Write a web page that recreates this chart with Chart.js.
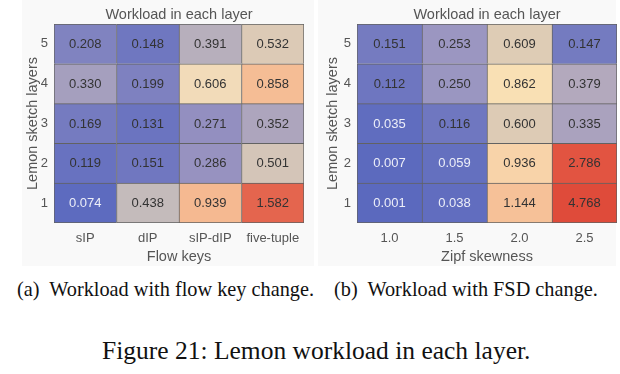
<!DOCTYPE html>
<html><head><meta charset="utf-8">
<script src="https://cdn.jsdelivr.net/npm/chart.js@4"></script>
<style>
body{margin:0;background:#fff;width:620px;height:374px;position:relative;overflow:hidden;}
.c{position:absolute;top:0;}
.bg{position:absolute;background:#f9f9f9;}
.cap{position:absolute;color:#111;white-space:pre;font-family:"Liberation Serif","Times New Roman",serif;line-height:1;}
</style></head><body>
<div class="bg" style="left:22px;top:0;width:292px;height:266px"></div>
<div class="bg" style="left:318px;top:0;width:298px;height:266px"></div>
<div class="c" style="left:0"><canvas id="a" width="310" height="270"></canvas></div>
<div class="c" style="left:310px"><canvas id="b" width="310" height="270"></canvas></div>
<div class="cap" style="left:17px;top:279px;font-size:20.3px">(a)  Workload with flow key change.</div>
<div class="cap" style="left:334px;top:279px;font-size:20.3px">(b)  Workload with FSD change.</div>
<div class="cap" style="left:102px;top:338px;font-size:25.5px">Figure 21: Lemon workload in each layer.</div>
<script>
// ---- data ----
const layers = [1, 2, 3, 4, 5];
const flowKeys = ['sIP', 'dIP', 'sIP-dIP', 'five-tuple'];
const flowLayer1 = [0.074, 0.438, 0.939, 1.582];
const flowLayer2 = [0.119, 0.151, 0.286, 0.501];
const flowLayer3 = [0.169, 0.131, 0.271, 0.352];
const flowLayer4 = [0.330, 0.199, 0.606, 0.858];
const flowLayer5 = [0.208, 0.148, 0.391, 0.532];
const zipfSkew = ['1.0', '1.5', '2.0', '2.5'];
const zipfLayer1 = [0.001, 0.038, 1.144, 4.768];
const zipfLayer2 = [0.007, 0.059, 0.936, 2.786];
const zipfLayer3 = [0.035, 0.116, 0.600, 0.335];
const zipfLayer4 = [0.112, 0.250, 0.862, 0.379];
const zipfLayer5 = [0.151, 0.253, 0.609, 0.147];

// ---- colour maps ----
const stopsA = [[0,'#5a68be'],[0.075,'#5d6bbf'],[0.15,'#7077c0'],[0.21,'#8183c0'],[0.29,'#9893c0'],[0.35,'#aca5bd'],[0.44,'#c5bbbb'],[0.53,'#dbcab6'],[0.61,'#f3dcb9'],[0.86,'#f5bd95'],[1.0,'#f5b68e'],[1.6,'#e3624c']];
const stopsB = [[0,'#5b69be'],[0.06,'#6470bf'],[0.15,'#757bc0'],[0.25,'#9a96c1'],[0.38,'#b3a9bd'],[0.6,'#ddcbb5'],[0.86,'#f9e0b4'],[0.94,'#f8d2a8'],[1.15,'#f6c098'],[2.8,'#e25340'],[4.8,'#df4b3a']];
function hex(h){return [1,3,5].map(i=>parseInt(h.substr(i,2),16));}
function cmap(stops,v){
  if(v<=stops[0][0]) return stops[0][1];
  for(let i=1;i<stops.length;i++){
    if(v<=stops[i][0]){
      const t=(v-stops[i-1][0])/(stops[i][0]-stops[i-1][0]);
      const a=hex(stops[i-1][1]), b=hex(stops[i][1]);
      return 'rgb('+a.map((x,k)=>Math.round(x+(b[k]-x)*t)).join(',')+')';
    }
  }
  return stops[stops.length-1][1];
}

const SANS = '"Liberation Sans", Arial, sans-serif';
const AX = '#555';

const cellLabels = {
  id:'cellLabels',
  afterDatasetsDraw(chart){
    const ctx=chart.ctx;
    ctx.save();
    ctx.font='13px '+SANS;
    ctx.textAlign='center'; ctx.textBaseline='middle';
    chart.data.datasets.forEach((ds,di)=>{
      chart.getDatasetMeta(di).data.forEach((el,i)=>{
        const v=ds.values[i];
        ctx.fillStyle = v<0.1 ? '#eceef8' : '#333';
        ctx.fillText(v.toFixed(3), el.x, (el.y+el.base)/2+0.5);
      });
    });
    const ca=chart.chartArea;
    ctx.font='14.5px '+SANS; ctx.fillStyle=AX;
    ctx.fillText('Workload in each layer',(ca.left+ca.right)/2,14.5);
    ctx.restore();
  }
};

function makeChart(id, cats, rows, stops, xTitle, padL, padR, yW){
  const n=cats.length;
  const datasets = rows.map((vals,r)=>({
    label:'Layer '+layers[r],
    data: vals.map(()=>[layers[r]-0.5, layers[r]+0.5]),
    values: vals,
    backgroundColor: vals.map(v=>cmap(stops,v)),
    borderColor:'#626262',
    borderWidth: c=>({top:1,left:1,right:c.dataIndex===n-1?1:0,bottom:layers[r]===1?1:0}),
    borderSkipped:false,
    grouped:false,
    barPercentage:1, categoryPercentage:1
  }));
  new Chart(document.getElementById(id),{
    type:'bar',
    data:{labels:cats, datasets},
    options:{
      responsive:false, animation:false, devicePixelRatio:1,
      layout:{padding:{top:24,left:padL,right:padR,bottom:0}},
      plugins:{legend:{display:false},title:{display:false},tooltip:{enabled:false}},
      scales:{
        x:{type:'category',offset:true,grid:{display:false,drawTicks:false},border:{display:false},
           ticks:{color:AX,font:{size:13,family:SANS},padding:8,maxRotation:0},
           title:{display:true,text:xTitle,color:AX,font:{size:14.5,family:SANS},padding:{top:4,bottom:4}},
           afterFit:s=>{s.height=47;}},
        y:{type:'linear',min:0.5,max:5.5,
           afterBuildTicks:s=>{s.ticks=layers.map(v=>({value:v}));},
           grid:{display:false,drawTicks:false},border:{display:false},
           ticks:{color:AX,font:{size:13,family:SANS},padding:6},
           title:{display:true,text:'Lemon sketch layers',color:AX,font:{size:14.5,family:SANS},padding:{top:4,bottom:4}},
           afterFit:s=>{s.width=yW;}}
      }
    },
    plugins:[cellLabels]
  });
}

makeChart('a', flowKeys, [flowLayer1,flowLayer2,flowLayer3,flowLayer4,flowLayer5], stopsA, 'Flow keys', 20, 6, 34);
makeChart('b', zipfSkew, [zipfLayer1,zipfLayer2,zipfLayer3,zipfLayer4,zipfLayer5], stopsB, 'Zipf skewness', 10, 3, 37);
</script>
</body></html>
